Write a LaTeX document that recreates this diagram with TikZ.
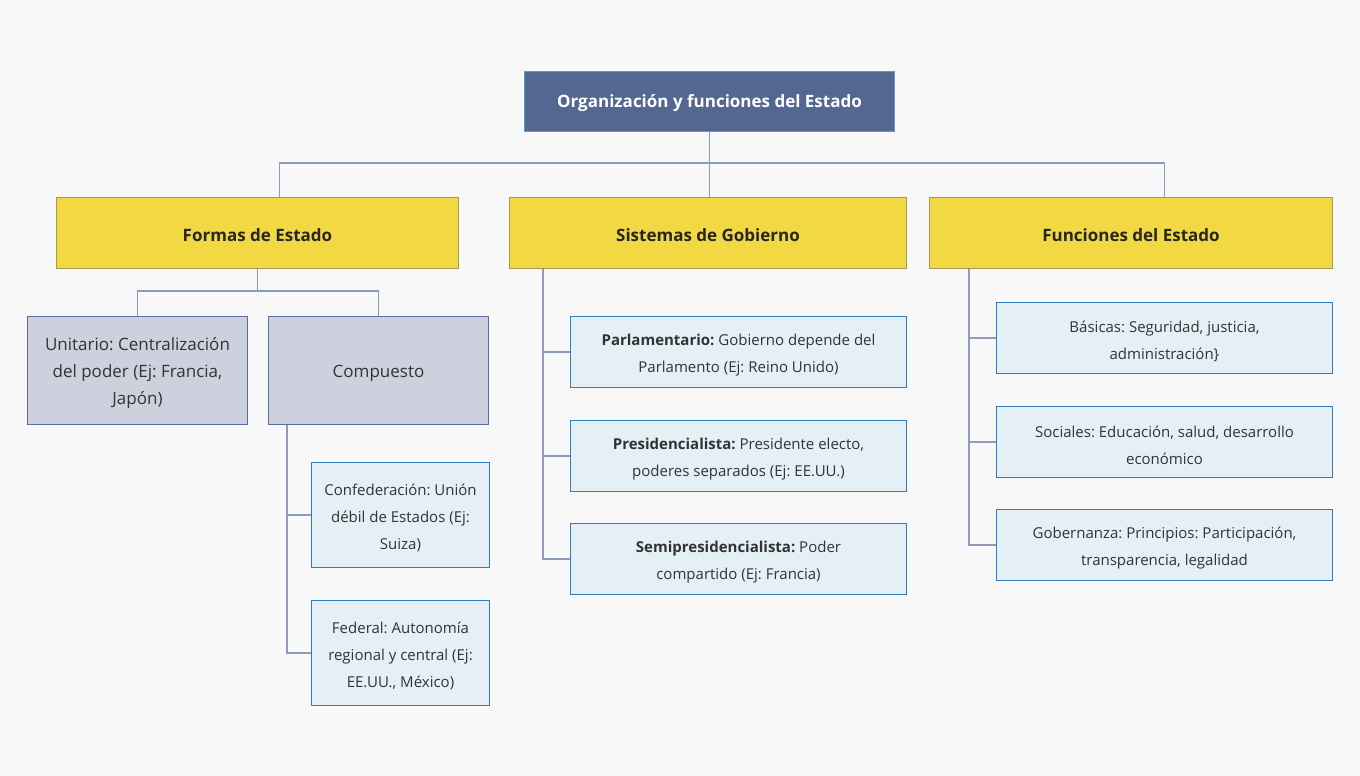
\documentclass[tikz,border=0pt]{standalone}
\usepackage{fontspec}
\setmainfont{Open Sans}
\frenchspacing
\usetikzlibrary{positioning, calc}
\definecolor{bgcol}{HTML}{F8F8F8}
\definecolor{rootfill}{HTML}{536790}
\definecolor{rootline}{HTML}{4FA3D1}
\definecolor{secfill}{HTML}{F2D843}
\definecolor{secline}{HTML}{A69A4A}
\definecolor{grpfill}{HTML}{CDD1DD}
\definecolor{grpline}{HTML}{5A6D9C}
\definecolor{leaffill}{HTML}{E4EFF6}
\definecolor{leafline}{HTML}{2F7DC0}
\definecolor{linkcol}{HTML}{8D9BBB}
\definecolor{txtcol}{HTML}{333333}

\begin{document}
\begin{tikzpicture}[
  x=1pt, y=-1pt,
  every node/.style={text=txtcol, align=center, inner sep=0pt, anchor=north west},
  rootbox/.style={fill=rootfill, draw=rootline, line width=1pt, text=white, text height=17pt,
    font=\fontsize{17}{20}\selectfont\bfseries, minimum width=370pt, minimum height=60pt},
  secbox/.style={fill=secfill, draw=secline, line width=1pt, text=black!85, text height=17pt,
    font=\fontsize{17}{20}\selectfont\bfseries, minimum height=71pt},
  grpbox/.style={fill=grpfill, draw=grpline, line width=1pt, text height=73pt,
    font=\fontsize{17}{27}\selectfont, minimum width=220pt, minimum height=108pt},
  leafbox/.style={fill=leaffill, draw=leafline, line width=1pt, text height=44.5pt,
    font=\fontsize{15}{27}\selectfont, minimum width=336pt, minimum height=71pt},
  link/.style={draw=linkcol, line width=1.3pt},
]

% Background
\fill[bgcol] (0,0) rectangle (1360,776);

% Root
\node[rootbox] (root) at (524,71) {Organización y funciones del Estado};

% Sections
\node[secbox, minimum width=402pt] (formas) at (56,197) {Formas de Estado};
\node[secbox, minimum width=397pt] (sistemas) at (509,197) {Sistemas de Gobierno};
\node[secbox, minimum width=403pt] (funciones) at (929,197) {Funciones del Estado};

% Formas de Estado
\node[grpbox] (unitario) at (27,316) {Unitario: Centralización\\del poder (Ej: Francia,\\Japón)};
\node[grpbox, text height=19pt] (compuesto) at (268,316) {Compuesto};
\node[leafbox, minimum width=178pt, minimum height=105pt, text height=71.5pt] (confed) at (311,462)
  {Confederación: Unión\\débil de Estados (Ej:\\Suiza)};
\node[leafbox, minimum width=178pt, minimum height=105pt, text height=71.5pt] (federal) at (311,600)
  {Federal: Autonomía\\regional y central (Ej:\\EE.UU., México)};

% Sistemas de Gobierno
\node[leafbox] (parla) at (570,316) {\textbf{Parlamentario:} Gobierno depende del\\Parlamento (Ej: Reino Unido)};
\node[leafbox] (presi) at (570,420) {\textbf{Presidencialista:} Presidente electo,\\poderes separados (Ej: EE.UU.)};
\node[leafbox] (semi) at (570,523) {\textbf{Semipresidencialista:} Poder\\compartido (Ej: Francia)};

% Funciones del Estado
\node[leafbox] (basicas) at (996,302) {Básicas: Seguridad, justicia,\\administración\}};
\node[leafbox] (sociales) at (996,406) {Sociales: Educación, salud, desarrollo\\económico};
\node[leafbox] (gober) at (996,509) {Gobernanza: Principios: Participación,\\transparencia, legalidad};

% Connectors
\draw[link] (root.south) -- ++(0,31) coordinate (rj);
\draw[link] ($(formas.north)+(22,0)$) |- (rj) -| ($(funciones.north)+(33.5,0)$);
\draw[link] (rj) -- (rj |- sistemas.north);

\draw[link] (formas.south) -- ++(0,22) coordinate (fj);
\draw[link] (unitario.north) |- (fj) -| (compuesto.north);

\coordinate (ct) at ($(compuesto.south west)+(19,0)$);
\draw[link] (ct) |- (confed.west);
\draw[link] (ct) |- (federal.west);

\coordinate (st) at ($(sistemas.south west)+(34,0)$);
\draw[link] (st) |- (parla.west);
\draw[link] (st) |- (presi.west);
\draw[link] (st) |- (semi.west);

\coordinate (ft) at ($(funciones.south west)+(40,0)$);
\draw[link] (ft) |- (basicas.west);
\draw[link] (ft) |- (sociales.west);
\draw[link] (ft) |- (gober.west);

\end{tikzpicture}
\end{document}
